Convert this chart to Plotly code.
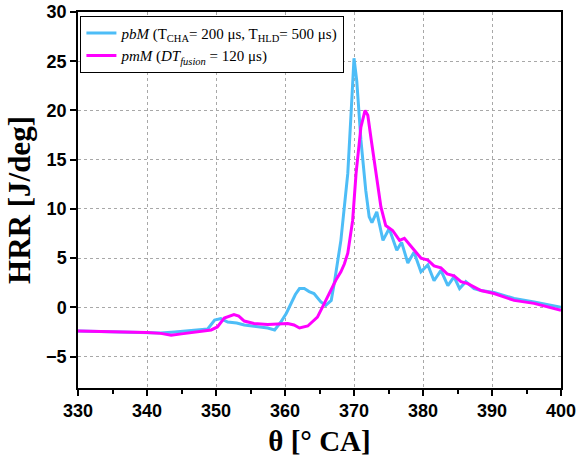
import plotly.graph_objects as go

blue_theta = [330, 335, 340, 342, 344, 346.9, 348.8, 349.8, 350.7, 351.7, 353, 354.1, 355.5, 356.5, 357.5, 358.5, 359.4, 360.2, 360.9, 361.5, 362.1, 362.8, 363.5, 364.2, 365.2, 365.9, 366.7, 367.2, 368.1, 368.6, 369.1, 369.6, 370, 370.4, 371, 371.7, 372.2, 372.6, 373.3, 374.2, 375.1, 376.2, 376.9, 377.8, 378.7, 379.7, 380.7, 381.6, 382.6, 383.6, 384.5, 385.3, 386.2, 387.4, 388.4, 390.3, 393.2, 396.1, 398, 400]
blue_hrr = [-2.4, -2.5, -2.6, -2.6, -2.5, -2.3, -2.2, -1.3, -1.15, -1.5, -1.6, -1.8, -1.9, -2.0, -2.1, -2.3, -1.5, -0.6, 0.4, 1.3, 1.9, 1.9, 1.6, 1.4, 0.55, 0.2, 0.7, 2.7, 6.8, 10, 13.6, 20, 25.3, 23, 17, 11.9, 9.2, 8.6, 9.7, 6.8, 8.0, 5.8, 6.6, 4.5, 5.6, 3.6, 4.3, 2.7, 3.75, 2.2, 3.1, 1.9, 2.6, 1.9, 1.7, 1.5, 0.9, 0.55, 0.3, 0.0]

mag_theta = [330, 335, 340, 342, 343.5, 345, 347, 349.3, 350.2, 351.2, 352.6, 353.3, 354.1, 355.5, 357.5, 359, 360.4, 361.3, 362.1, 363.3, 364.7, 365.7, 366.7, 367.4, 368.1, 368.6, 369.1, 369.8, 370.3, 371, 371.6, 372, 372.5, 373.2, 373.9, 374.6, 375.6, 376.6, 377.3, 378.5, 379.7, 380.7, 381.6, 382.6, 383.5, 384.5, 385.5, 386.5, 388.4, 390.3, 393.2, 396.1, 399.5, 400]
mag_hrr = [-2.4, -2.45, -2.55, -2.65, -2.85, -2.7, -2.5, -2.3, -2.0, -1.1, -0.75, -0.9, -1.4, -1.65, -1.75, -1.7, -1.65, -1.8, -2.1, -1.9, -1.0, 0.4, 1.9, 2.8, 3.6, 4.4, 5.5, 8.8, 13.6, 18.3, 20.0, 19.5, 17, 13.6, 10.2, 8.3, 7.8, 6.8, 7.0, 6.0, 5.0, 4.8, 4.2, 4.0, 3.4, 3.2, 2.6, 2.4, 1.7, 1.4, 0.7, 0.4, -0.2, -0.3]

x_ticks = [330, 340, 350, 360, 370, 380, 390, 400]
y_ticks = [-5, 0, 5, 10, 15, 20, 25, 30]

name_blue = "<i>pbM</i> (T<sub>CHA</sub>= 200 μs, T<sub>HLD</sub>= 500 μs)"
name_mag = "<i>pmM</i> (<i>DT<sub>fusion</sub></i> = 120 μs)"

fig = go.Figure()
fig.add_trace(go.Scatter(x=blue_theta, y=blue_hrr, mode="lines", name=name_blue,
                         line=dict(color="#4DBDF7", width=3)))
fig.add_trace(go.Scatter(x=mag_theta, y=mag_hrr, mode="lines", name=name_mag,
                         line=dict(color="#FF00FF", width=3)))

axis_common = dict(
    showline=True, linecolor="black", linewidth=1.5, mirror=True,
    ticks="outside", tickcolor="black", ticklen=6, tickwidth=1.5,
    showgrid=True, gridcolor="#a8a8a8", griddash="dot", gridwidth=1,
    zeroline=False, automargin=False,
    tickfont=dict(family="Liberation Sans, Arial", size=18, color="black", weight="bold"),
)

fig.update_xaxes(range=[330, 400], tickvals=x_ticks,
                 minor=dict(dtick=5, ticks="outside", ticklen=4, tickcolor="black", showgrid=False),
                 title=dict(text="<b>θ [° CA]</b>", font=dict(family="Liberation Serif, Times New Roman", size=29, color="black"), standoff=10),
                 **axis_common)
fig.update_yaxes(range=[-8.2, 30], tickvals=y_ticks,
                 title=dict(text="<b>HRR [J/deg]</b>", font=dict(family="Liberation Serif, Times New Roman", size=31, color="black"), standoff=6),
                 **axis_common)

fig.update_layout(
    width=577, height=463,
    margin=dict(l=78, r=16, t=12, b=75),
    plot_bgcolor="white", paper_bgcolor="white",
    legend=dict(x=0.005, y=0.99, xanchor="left", yanchor="top",
                bordercolor="black", borderwidth=1, bgcolor="white",
                font=dict(family="Liberation Serif, Times New Roman", size=15, color="black"),
                tracegroupgap=0, itemwidth=30),
    showlegend=True,
)

fig.write_html("out.html", config={"displayModeBar": False},
               post_script="document.body.style.margin='0';")
